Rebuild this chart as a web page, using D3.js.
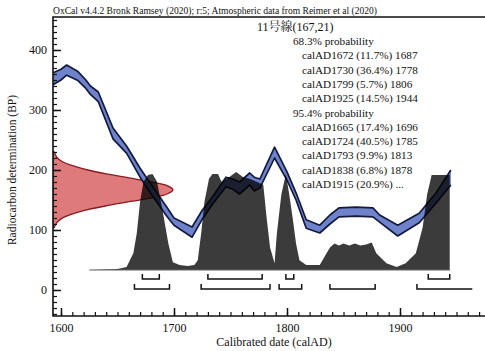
<!DOCTYPE html>
<html>
<head>
<meta charset="utf-8">
<script src="https://cdn.jsdelivr.net/npm/d3@7"></script>
<style>
    body { margin: 0; background: #fff; }
    svg { display: block; }
    text { font-family: "Liberation Serif", "DejaVu Serif", serif; fill: #111; }
</style>
</head>
<body>
<div id="chart"></div>
<script>
// calibration curve (IntCal20), upper / lower edge in BP
let curveYears = [1593, 1600, 1605, 1615, 1622, 1626, 1633, 1646, 1658, 1670, 1679, 1694, 1700, 1716, 1725, 1734,
    1746, 1752, 1758, 1767, 1771, 1776, 1789, 1800, 1808, 1817, 1829, 1838, 1846, 1861, 1876, 1882, 1898, 1917, 1932, 1945];
let curveUpper = [362, 368, 375, 364, 350, 340, 330, 270, 240, 203, 178, 137, 120, 105, 133, 155,
    188, 185, 180, 195, 188, 185, 238, 197, 162, 117, 108, 125, 137, 138, 137, 125, 108, 128, 162, 200];
let curveLower = [342, 350, 358, 349, 336, 326, 314, 252, 228, 188, 162, 122, 108, 88, 118, 143,
    172, 168, 160, 175, 165, 170, 220, 183, 150, 103, 95, 110, 122, 123, 122, 113, 90, 112, 145, 175];

// measurement 167 +- 21 BP, relative likelihood
let likeBP = [230, 222, 215, 208, 200, 193, 186, 180, 174, 167, 160, 154, 148, 141, 134, 126, 119, 112, 104];
let likeP = [0.01, 0.03, 0.07, 0.15, 0.29, 0.46, 0.66, 0.82, 0.95, 1.0, 0.95, 0.83, 0.66, 0.46, 0.29, 0.15, 0.07, 0.03, 0.01];

// calibrated distribution (relative height)
let postYears = [1625, 1650, 1658, 1664, 1667, 1670, 1673, 1677, 1681, 1685, 1690, 1695, 1699, 1705, 1712, 1718,
    1721, 1724, 1727, 1731, 1734, 1739, 1742, 1749, 1755, 1761, 1767, 1773, 1779, 1782, 1785, 1789,
    1791, 1795, 1799, 1802, 1805, 1808, 1811, 1817, 1829, 1835, 1838, 1842, 1846, 1850, 1855, 1860,
    1865, 1870, 1875, 1879, 1888, 1897, 1905, 1914, 1920, 1924, 1928, 1940, 1944];
let postP = [0, 1, 3, 17, 37, 70, 90, 97, 98, 90, 60, 27, 8, 5, 4, 5,
    10, 37, 70, 93, 98, 98, 90, 95, 100, 95, 93, 90, 87, 53, 23, 7,
    37, 77, 98, 77, 53, 27, 10, 5, 5, 17, 23, 27, 25, 27, 25, 27,
    25, 26, 28, 17, 7, 3, 7, 17, 43, 77, 97, 97, 97];

// ranges
let range68 = [[1672, 1687], [1730, 1778], [1799, 1806], [1925, 1944]];
let range95 = [[1665, 1696], [1724, 1785], [1793, 1813], [1838, 1878], [1915, null]];

let titleText = "OxCal v4.4.2 Bronk Ramsey (2020); r:5; Atmospheric data from Reimer et al (2020)";
let sampleName = "11号線(167,21)";
let legendLines = [
    {text: "68.3% probability", indent: 1},
    {text: "calAD1672 (11.7%) 1687", indent: 2},
    {text: "calAD1730 (36.4%) 1778", indent: 2},
    {text: "calAD1799 (5.7%) 1806", indent: 2},
    {text: "calAD1925 (14.5%) 1944", indent: 2},
    {text: "95.4% probability", indent: 1},
    {text: "calAD1665 (17.4%) 1696", indent: 2},
    {text: "calAD1724 (40.5%) 1785", indent: 2},
    {text: "calAD1793 (9.9%) 1813", indent: 2},
    {text: "calAD1838 (6.8%) 1878", indent: 2},
    {text: "calAD1915 (20.9%) ...", indent: 2}
];

let width = 485, height = 351;
let pLeft = 53, pTop = 17, pBottom = 316, pRight = 485;

let svg = d3.select("#chart").append("svg")
    .attr("width", width)
    .attr("height", height);

let x = d3.scaleLinear().domain([1600, 1900]).range([61, 400]);
let y = d3.scaleLinear().domain([0, 400]).range([290, 50]);

// likelihood width and posterior height
let likeX = d3.scaleLinear().domain([0, 1]).range([pLeft, 173]);
let postBase = 270;
let postY = d3.scaleLinear().domain([0, 100]).range([postBase, 172]);

svg.append("clipPath").attr("id", "plotClip")
    .append("rect").attr("x", pLeft).attr("y", pTop).attr("width", pRight - pLeft).attr("height", pBottom - pTop);

let plot = svg.append("g").attr("clip-path", "url(#plotClip)");

// red likelihood on the y axis
let likeData = likeBP.map((b, i) => ({bp: b, p: likeP[i]}));
plot.append("path")
    .datum(likeData)
    .attr("d", d3.area().curve(d3.curveCatmullRom)
        .y(d => y(d.bp)).x0(pLeft).x1(d => likeX(d.p)))
    .attr("fill", "#de7a7c")
    .attr("stroke", "#8a1a1e")
    .attr("stroke-width", 1.3);

// calibration curve band
let curveData = curveYears.map((yr, i) => ({yr: yr, hi: curveUpper[i], lo: curveLower[i]}));
plot.append("path")
    .datum(curveData)
    .attr("d", d3.area().x(d => x(d.yr)).y0(d => y(d.lo)).y1(d => y(d.hi)))
    .attr("fill", "#6f83cc");
["hi", "lo"].forEach(k => {
    plot.append("path")
        .datum(curveData)
        .attr("d", d3.line().x(d => x(d.yr)).y(d => y(d[k])))
        .attr("fill", "none")
        .attr("stroke", "#141a3c")
        .attr("stroke-width", 1.7)
        .attr("stroke-linejoin", "round");
});

// posterior histogram
let postData = postYears.map((yr, i) => ({yr: yr, p: postP[i]}));
let lastYr = postYears[postYears.length - 1];
plot.append("path")
    .datum(postData.concat([{yr: lastYr, p: 0}]))
    .attr("d", d3.area().x(d => x(d.yr)).y0(postBase).y1(d => postY(d.p)))
    .attr("fill", "#000")
    .attr("fill-opacity", 0.77);
plot.append("line")
    .attr("x1", x(postYears[0])).attr("x2", x(lastYr))
    .attr("y1", postBase).attr("y2", postBase)
    .attr("stroke", "#666").attr("stroke-width", 1);

// range brackets
function drawBrackets(ranges, yy) {
    ranges.forEach(r => {
        let x1 = x(r[0]);
        let x2 = r[1] === null ? x(1964) : x(r[1]);
        let d = "M" + x1 + "," + (yy - 5) + "V" + yy + "H" + x2 + (r[1] === null ? "" : "V" + (yy - 5));
        svg.append("path")
            .attr("d", d)
            .attr("fill", "none")
            .attr("stroke", "#111")
            .attr("stroke-width", 1.5);
    });
}
drawBrackets(range68, postBase + 9);
drawBrackets(range95, postBase + 19);

// axes
let yMinor = d3.range(-40, 451, 10);
let yMajor = [0, 100, 200, 300, 400];
svg.append("g")
    .attr("transform", "translate(" + pLeft + ",0)")
    .call(d3.axisLeft(y).tickValues(yMinor).tickSize(-4).tickFormat(""))
    .call(g => g.select(".domain").remove())
    .selectAll("line").attr("stroke", "#111").attr("stroke-width", 1.2);
svg.append("g")
    .attr("transform", "translate(" + pLeft + ",0)")
    .call(d3.axisLeft(y).tickValues(yMajor).tickSize(-8).tickPadding(6))
    .call(g => g.select(".domain").remove())
    .call(g => g.selectAll("line").attr("stroke", "#111").attr("stroke-width", 1.5))
    .call(g => g.selectAll("text").attr("font-family", "Liberation Serif").attr("font-size", 12).attr("fill", "#111"));

let xMinor = d3.range(1600, 1971, 10);
let xMajor = [1600, 1700, 1800, 1900];
svg.append("g")
    .attr("transform", "translate(0," + pBottom + ")")
    .call(d3.axisBottom(x).tickValues(xMinor).tickSize(-4).tickFormat(""))
    .call(g => g.select(".domain").remove())
    .selectAll("line").attr("stroke", "#111").attr("stroke-width", 1.2);
svg.append("g")
    .attr("transform", "translate(0," + pBottom + ")")
    .call(d3.axisBottom(x).tickValues(xMajor).tickSize(-8).tickPadding(7).tickFormat(d3.format("d")))
    .call(g => g.select(".domain").remove())
    .call(g => g.selectAll("line").attr("stroke", "#111").attr("stroke-width", 1.5))
    .call(g => g.selectAll("text").attr("font-family", "Liberation Serif").attr("font-size", 12).attr("fill", "#111"));

// frame
svg.append("path")
    .attr("d", "M" + pRight + "," + pTop + "H" + pLeft + "V" + pBottom + "H" + pRight)
    .attr("fill", "none")
    .attr("stroke", "#111")
    .attr("stroke-width", 1.6);

// titles
svg.append("text")
    .attr("x", pLeft).attr("y", 14)
    .attr("font-size", 9.5)
    .attr("textLength", 324)
    .attr("lengthAdjust", "spacingAndGlyphs")
    .text(titleText);

svg.append("text")
    .attr("x", 274).attr("y", 346)
    .attr("text-anchor", "middle")
    .attr("font-size", 12)
    .text("Calibrated date (calAD)");

svg.append("text")
    .attr("transform", "translate(16,170) rotate(-90)")
    .attr("text-anchor", "middle")
    .attr("font-size", 11.5)
    .text("Radiocarbon determination (BP)");

// result text
svg.append("text")
    .attr("x", 257).attr("y", 31)
    .attr("font-size", 12)
    .style("font-family", "'Liberation Serif', 'Noto Serif CJK JP', 'Noto Sans CJK JP', serif")
    .text(sampleName);

svg.selectAll(".legendLine")
    .data(legendLines)
    .enter().append("text")
    .attr("class", "legendLine")
    .attr("x", d => d.indent === 1 ? 293 : 302)
    .attr("y", (d, i) => 45 + i * 14.3)
    .attr("font-size", 11.2)
    .text(d => d.text);
</script>
</body>
</html>
